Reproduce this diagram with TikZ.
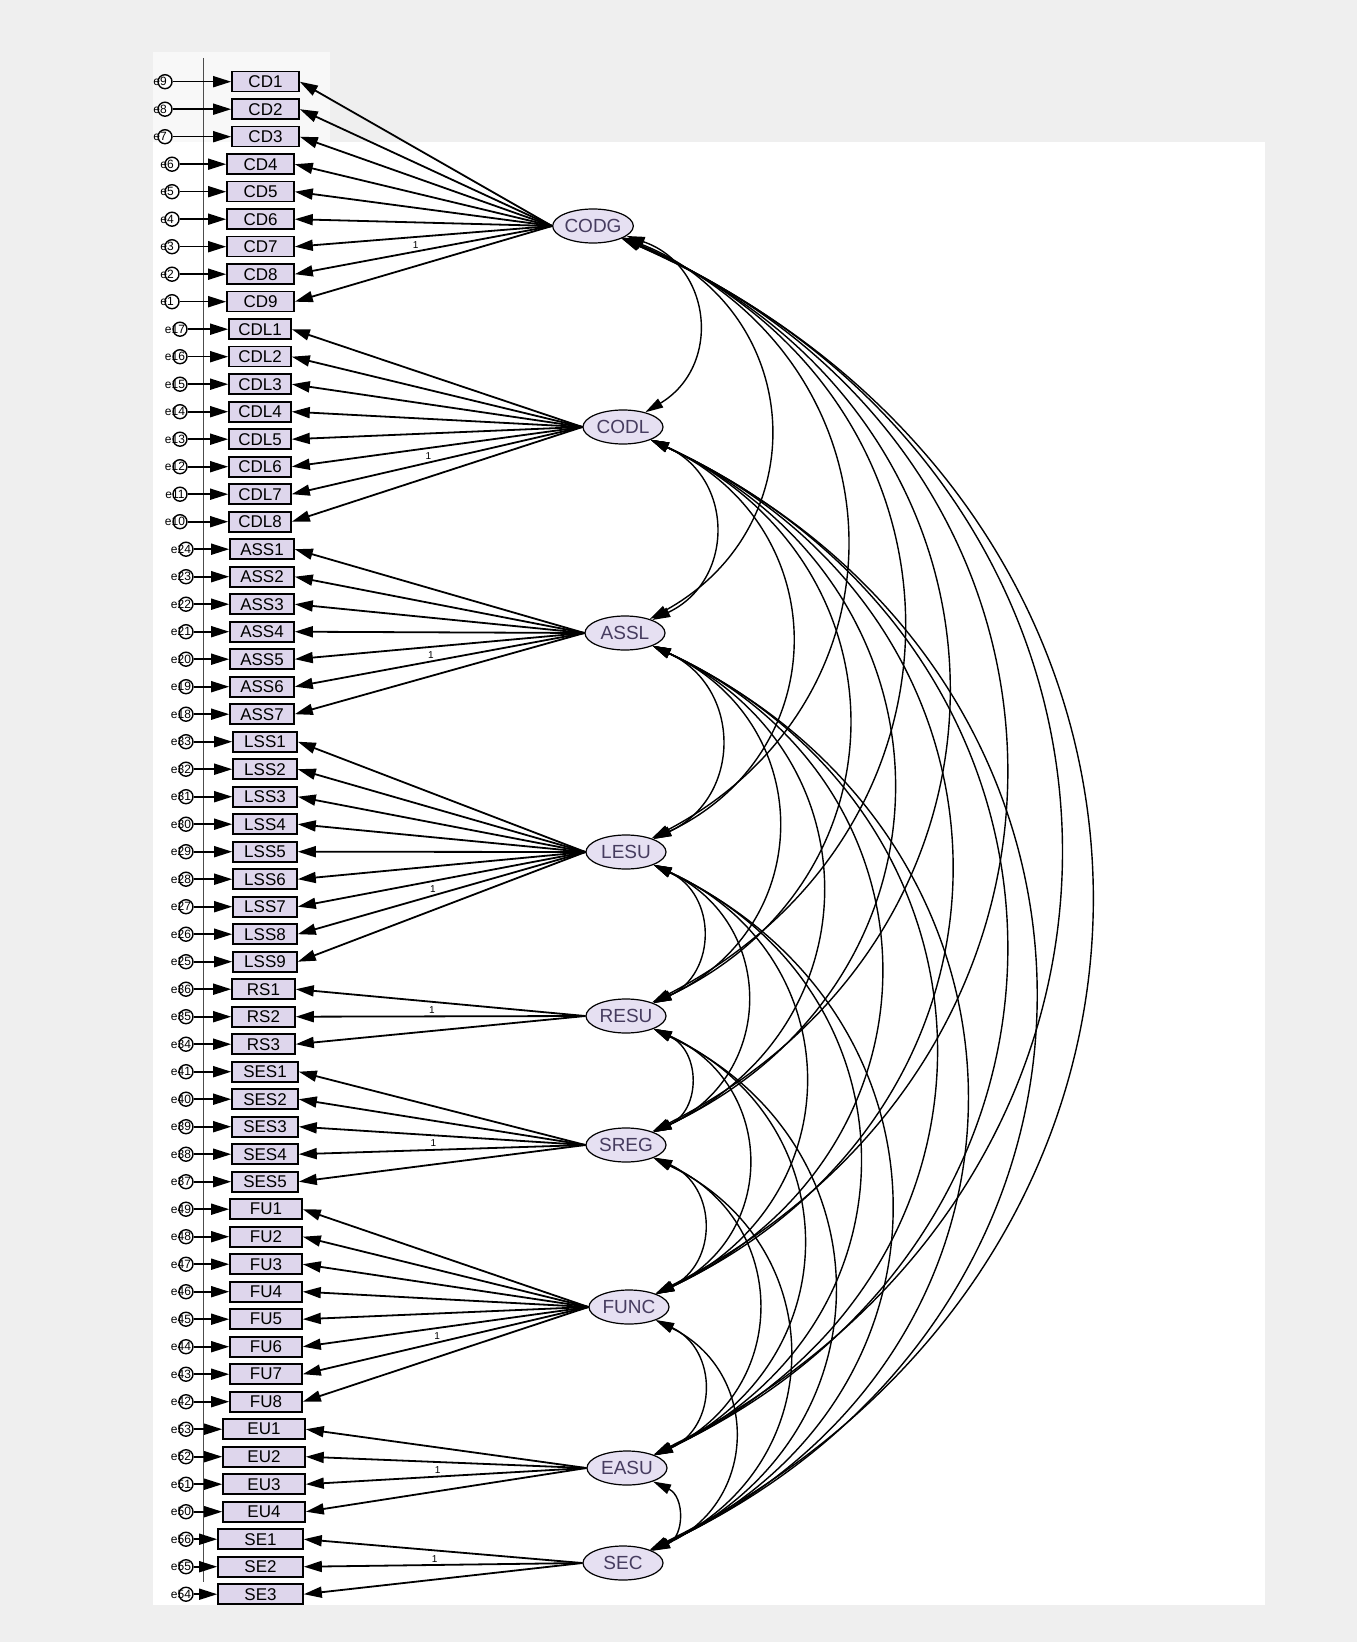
\documentclass[tikz,border=0pt]{standalone}
\usepackage{fontspec}
\setmainfont{Liberation Sans}
\usetikzlibrary{arrows.meta,shapes.geometric}
\definecolor{bgray}{RGB}{239,239,239}
\definecolor{lav}{RGB}{222,214,236}
\definecolor{latfill}{RGB}{230,224,242}
\definecolor{lattext}{RGB}{70,60,95}

\begin{document}
\begin{tikzpicture}[x=0.5pt, y=-0.5pt,
  obs/.style={draw, line width=0.8pt, fill=lav, inner sep=0pt, minimum height=10pt, font=\fontsize{8.5}{9}\selectfont},
  lat/.style={ellipse, draw, line width=0.6pt, fill=latfill, inner sep=0pt, minimum width=40pt, minimum height=17pt, text=lattext, font=\fontsize{9.5}{10}\selectfont},
  err/.style={circle, draw, line width=0.7pt, fill=white, inner sep=0pt, minimum size=7pt},
  etxt/.style={font=\fontsize{6}{6}\selectfont, inner sep=0pt, xshift=-2.5pt},
  loadarr/.style={-{Triangle[length=9pt,width=5.5pt]}, line width=0.9pt},
  errarr/.style={-{Triangle[length=9pt,width=5.5pt]}, line width=0.8pt},
  cov/.style={{Triangle[length=9pt,width=5pt]}-{Triangle[length=9pt,width=5pt]}, line width=0.7pt, bend left=65, looseness=1.3},
  one/.style={font=\fontsize{5}{5}\selectfont, inner sep=1pt}]
  \useasboundingbox (0,0) rectangle (1357,1642);
  \fill[bgray] (0,0) rectangle (1357,1642);
  \fill[white] (153,142) rectangle (1265,1605);
  \fill[white!55!bgray] (153,52) rectangle (330,142);
  \draw[line width=0.5pt, gray!60!black] (203,58) -- (203,1582);
  % latent factors
  \node[lat] (CODG) at (593,226) {CODG};
  \node[lat] (CODL) at (623,427) {CODL};
  \node[lat] (ASSL) at (625,633) {ASSL};
  \node[lat] (LESU) at (626,852) {LESU};
  \node[lat] (RESU) at (626,1016) {RESU};
  \node[lat] (SREG) at (626,1145) {SREG};
  \node[lat] (FUNC) at (629,1307) {FUNC};
  \node[lat] (EASU) at (627,1468) {EASU};
  \node[lat] (SEC)  at (623,1563) {SEC};
  % indicators: latent / first row / items / prefix / top error / box x / box width / error x / item with 1
  \foreach \lv/\rf/\n/\pre/\en/\bx/\bw/\ex/\fx in {
    CODG/0/9/CD/9/260.5/67/172/8,
    CODL/9/8/CDL/17/260/62/180/7,
    ASSL/17/7/ASS/24/262/64/186/6,
    LESU/24/9/LSS/33/265/64/186/8,
    RESU/33/3/RS/36/263.5/63/186/2,
    SREG/36/5/SES/41/265/66/186/4,
    FUNC/41/8/FU/49/266/72/186/7,
    EASU/49/4/EU/53/264/82/186/3,
    SEC/53/3/SE/56/260.5/85/186/2}{
    \foreach \k in {1,...,\n}{
      \pgfmathtruncatemacro\r{\rf+\k-1}
      \pgfmathtruncatemacro\ei{\en-\k+1}
      \pgfmathsetmacro\yy{81.7+27.5*\r}
      \pgfmathsetmacro\dx{\r<3 ? 5 : 0}
      \node[obs, minimum width=\bw*0.5pt] (\pre\k) at (\bx+\dx,\yy) {\pre\k};
      \node[err, label={[etxt]center:e\ei}] (e\ei) at (\ex-1.4*\dx,\yy) {};
      \draw[errarr] (e\ei) -- (\pre\k);
      \ifnum\k=\fx
        \draw[loadarr] (\lv.west) -- node[one, pos=.53, above] {1} (\pre\k.east);
      \else
        \draw[loadarr] (\lv.west) -- (\pre\k.east);
      \fi
    }
  }
  % covariances
  \foreach \a [count=\i] in {CODG,CODL,ASSL,LESU,RESU,SREG,FUNC,EASU,SEC}{
    \foreach \b [count=\j] in {CODG,CODL,ASSL,LESU,RESU,SREG,FUNC,EASU,SEC}{
      \ifnum\j>\i \draw[cov] (\a) to (\b); \fi
    }
  }
\end{tikzpicture}
\end{document}
